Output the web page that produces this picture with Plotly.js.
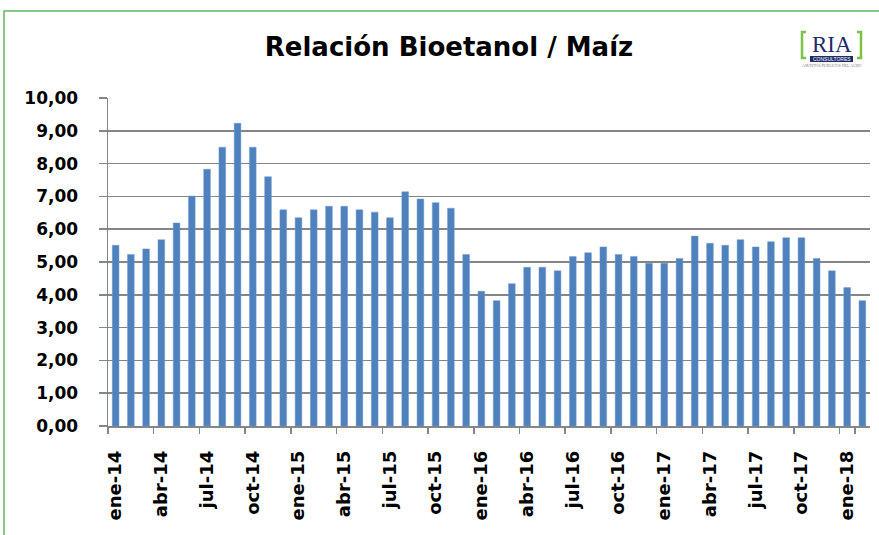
<!DOCTYPE html>
<html>
<head>
<meta charset="utf-8">
<script src="https://cdn.plot.ly/plotly-3.0.1.min.js"></script>
<style>
  html, body { margin: 0; padding: 0; background: #ffffff; }
  #chart { width: 879px; height: 535px; }
</style>
</head>
<body>
<div id="chart"></div>
<script>
// ---- data ----
const months = [
  "ene-14","feb-14","mar-14","abr-14","may-14","jun-14","jul-14","ago-14","sep-14","oct-14","nov-14","dic-14",
  "ene-15","feb-15","mar-15","abr-15","may-15","jun-15","jul-15","ago-15","sep-15","oct-15","nov-15","dic-15",
  "ene-16","feb-16","mar-16","abr-16","may-16","jun-16","jul-16","ago-16","sep-16","oct-16","nov-16","dic-16",
  "ene-17","feb-17","mar-17","abr-17","may-17","jun-17","jul-17","ago-17","sep-17","oct-17","nov-17","dic-17",
  "ene-18","feb-18"
];
const ratio = [
  5.51, 5.23, 5.40, 5.68, 6.19, 7.01, 7.83, 8.50, 9.23, 8.50, 7.60, 6.59,
  6.35, 6.59, 6.70, 6.70, 6.59, 6.52, 6.35, 7.14, 6.92, 6.81, 6.64, 5.23,
  4.11, 3.82, 4.34, 4.84, 4.84, 4.73, 5.17, 5.28, 5.46, 5.23, 5.17, 4.96,
  4.96, 5.11, 5.79, 5.57, 5.51, 5.68, 5.46, 5.62, 5.74, 5.74, 5.11, 4.73,
  4.22, 3.82
];
const tickLabels = [
  "ene-14","abr-14","jul-14","oct-14",
  "ene-15","abr-15","jul-15","oct-15",
  "ene-16","abr-16","jul-16","oct-16",
  "ene-17","abr-17","jul-17","oct-17",
  "ene-18"
];
const yTicks = [0,1,2,3,4,5,6,7,8,9,10];
const titleText = "Relación Bioetanol / Maíz";

// ---- layout helpers (pixel -> paper) ----
const L = 108, R = 870, T = 98, B = 426;
const px = x => (x - L) / (R - L);
const py = y => (B - y) / (B - T);

const green = "#5cb85c";
const navy = "#1f2a6b";
const gridCol = "#858585";

const shapes = [
  // green frame round the whole picture
  {type: "rect", xref: "paper", yref: "paper",
   x0: px(4), x1: px(884), y0: py(545), y1: py(11),
   line: {color: green, width: 1.5}, fillcolor: "rgba(0,0,0,0)", layer: "below"},
  // logo brackets
  {type: "path", xref: "paper", yref: "paper",
   path: `M ${px(806)} ${py(32)} L ${px(802)} ${py(32)} L ${px(802)} ${py(58)} L ${px(806)} ${py(58)}`,
   line: {color: "#7cc242", width: 2.5}},
  {type: "path", xref: "paper", yref: "paper",
   path: `M ${px(857)} ${py(32)} L ${px(861)} ${py(32)} L ${px(861)} ${py(58)} L ${px(857)} ${py(58)}`,
   line: {color: "#7cc242", width: 2.5}},
  // logo pill
  {type: "rect", xref: "paper", yref: "paper",
   x0: px(810), x1: px(853), y0: py(62), y1: py(56),
   line: {color: navy, width: 0}, fillcolor: navy}
];

const annotations = [
  {text: "RIA", xref: "paper", yref: "paper", x: px(831.5), y: py(44),
   xanchor: "center", yanchor: "middle", showarrow: false,
   font: {family: "Liberation Serif, DejaVu Serif, serif", size: 23, color: navy}},
  {text: "CONSULTORES", xref: "paper", yref: "paper", x: px(831.5), y: py(59),
   xanchor: "center", yanchor: "middle", showarrow: false,
   font: {family: "Liberation Sans, Arial, sans-serif", size: 5, color: "#ffffff"}},
  {text: "ASUNTOS PÚBLICOS DEL AGRO", xref: "paper", yref: "paper", x: px(831.5), y: py(66),
   xanchor: "center", yanchor: "middle", showarrow: false,
   font: {family: "Liberation Serif, serif", size: 4, color: "#777777"}}
];

const trace = {
  type: "bar",
  x: months,
  y: ratio,
  marker: {color: "#4f81bd", line: {color: "#6f9bd0", width: 0.5}},
  hoverinfo: "x+y"
};

const layout = {
  width: 879, height: 535,
  paper_bgcolor: "#ffffff", plot_bgcolor: "#ffffff",
  margin: {l: L, r: 879 - R, t: T, b: 535 - B},
  separators: ",.",
  showlegend: false,
  bargap: 0.56,
  title: {
    text: titleText,
    x: 449 / 879, xref: "container", xanchor: "center",
    y: 1 - 47 / 535, yref: "container", yanchor: "middle",
    font: {family: "DejaVu Sans, sans-serif", size: 26, color: "#000000", weight: "bold"}
  },
  xaxis: {
    type: "category",
    range: [-0.5, months.length - 0.5],
    tickmode: "array",
    tickvals: tickLabels,
    ticktext: tickLabels,
    tickangle: -90,
    tickson: "boundaries",
    ticks: "outside", ticklen: 6, tickcolor: gridCol, tickwidth: 1.5,
    ticklabelstandoff: 16,
    showline: true, linecolor: gridCol, linewidth: 1.5,
    showgrid: false, zeroline: false,
    tickfont: {family: "DejaVu Sans, sans-serif", size: 18, color: "#000000", weight: "bold"},
    fixedrange: true
  },
  yaxis: {
    range: [0, 10],
    tickmode: "array",
    tickvals: yTicks,
    tickformat: ".2f",
    ticks: "outside", ticklen: 8, tickcolor: gridCol, tickwidth: 1.5,
    ticklabelstandoff: 17,
    showline: true, linecolor: gridCol, linewidth: 1.5,
    showgrid: true, gridcolor: gridCol, gridwidth: 1.5,
    zeroline: false,
    tickfont: {family: "DejaVu Sans, sans-serif", size: 17, color: "#000000", weight: "bold"},
    fixedrange: true
  },
  shapes: shapes,
  annotations: annotations
};

Plotly.newPlot("chart", [trace], layout, {displayModeBar: false, staticPlot: true});
</script>
</body>
</html>
